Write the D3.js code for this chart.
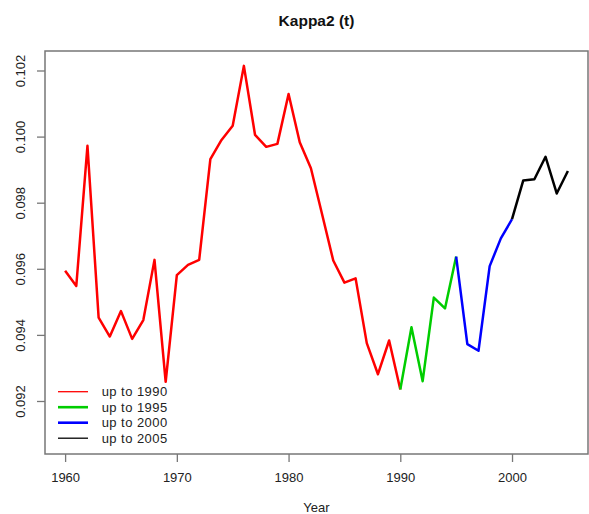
<!DOCTYPE html>
<html>
<head>
<meta charset="utf-8">
<script src="https://cdn.jsdelivr.net/npm/d3@7"></script>
<style>
  body { margin: 0; background: #fff; }
  svg { display: block; font-family: "Liberation Sans", Arial, Helvetica, sans-serif; }
</style>
</head>
<body>
<svg id="chart" width="589" height="514"></svg>
<script>
// Kappa2(t) estimates by year
const years = d3.range(1960, 2006);
const kappa2 = [
  0.09594, 0.09548, 0.09972, 0.09452, 0.09395, 0.09472, 0.09388, 0.09445, 0.09627, 0.09258,
  0.09581, 0.09612, 0.09627, 0.09932, 0.09990, 0.10033, 0.10214, 0.10005, 0.09969, 0.09978,
  0.10129, 0.09983, 0.09904, 0.09765, 0.09625, 0.09558, 0.09571, 0.09375, 0.09281, 0.09383,
  0.09235, 0.09423, 0.09260, 0.09513, 0.09480, 0.09637, 0.09372, 0.09352, 0.09608, 0.09692,
  0.09750, 0.09867, 0.09871, 0.09939, 0.09828, 0.09896
];

// Estimation windows: each segment runs from its start year to its end year
const segStart = [1960, 1990, 1995, 2000];
const segEnd   = [1990, 1995, 2000, 2005];
const segLabels = ["up to 1990", "up to 1995", "up to 2000", "up to 2005"];
const segColors = ["#ff0000", "#00cd00", "#0000ff", "#000000"];
const legendWidths = [1.3, 2.6, 2.6, 1.3];

const xTicks = [1960, 1970, 1980, 1990, 2000];
const yTicks = [0.092, 0.094, 0.096, 0.098, 0.100, 0.102];

const svg = d3.select("#chart");
const box = { left: 45, right: 588, top: 51, bottom: 454 };

const x = d3.scaleLinear().domain([1958.2, 2006.8]).range([box.left, box.right]);
const y = d3.scaleLinear().domain([0.090396, 0.10259]).range([box.bottom, box.top]);

const axisColor = "#777";
const textColor = "#222";

// Title
svg.append("text")
  .attr("x", (box.left + box.right) / 2).attr("y", 25.5)
  .attr("text-anchor", "middle")
  .attr("font-size", 15.5).attr("font-weight", "bold")
  .attr("fill", "#111")
  .text("Kappa2 (t)");

// Data lines, one per window
const points = years.map((yr, i) => ({ yr, v: kappa2[i] }));
const line = d3.line().x(d => x(d.yr)).y(d => y(d.v));
segStart.forEach((s, k) => {
  const seg = points.filter(d => d.yr >= s && d.yr <= segEnd[k]);
  svg.append("path")
    .datum(seg)
    .attr("d", line)
    .attr("fill", "none")
    .attr("stroke", segColors[k])
    .attr("stroke-width", 2.5)
    .attr("stroke-linejoin", "round");
});

// Plot frame
svg.append("rect")
  .attr("x", box.left).attr("y", box.top)
  .attr("width", box.right - box.left).attr("height", box.bottom - box.top)
  .attr("fill", "none").attr("stroke", axisColor).attr("stroke-width", 1.5);

// X axis
const xAxis = svg.append("g")
  .attr("transform", `translate(0,${box.bottom})`)
  .call(d3.axisBottom(x).tickValues(xTicks).tickFormat(d3.format("d")).tickSize(8).tickPadding(11));
xAxis.select(".domain").remove();
xAxis.selectAll(".tick line").attr("stroke", axisColor).attr("stroke-width", 1.3);
xAxis.selectAll(".tick text")
  .attr("font-size", 13).attr("fill", textColor)
  .attr("font-family", "'Liberation Sans', Arial, sans-serif");

// Y axis with rotated labels
const yAxis = svg.append("g")
  .attr("transform", `translate(${box.left},0)`)
  .call(d3.axisLeft(y).tickValues(yTicks).tickFormat(d3.format(".3f")).tickSize(8));
yAxis.select(".domain").remove();
yAxis.selectAll(".tick line").attr("stroke", axisColor).attr("stroke-width", 1.3);
yAxis.selectAll(".tick text")
  .attr("font-size", 13).attr("fill", textColor)
  .attr("font-family", "'Liberation Sans', Arial, sans-serif")
  .attr("text-anchor", "middle")
  .attr("dy", null)
  .attr("x", null)
  .attr("transform", `translate(${25 - box.left},0) rotate(-90)`);

// X axis title
svg.append("text")
  .attr("x", (box.left + box.right) / 2).attr("y", 512)
  .attr("text-anchor", "middle")
  .attr("font-size", 13).attr("fill", textColor)
  .text("Year");

// Legend
const legend = svg.append("g");
const legendY0 = 391.7, legendStep = 15.5;
segLabels.forEach((lab, k) => {
  const ly = legendY0 + k * legendStep;
  legend.append("line")
    .attr("x1", 58).attr("x2", 88).attr("y1", ly).attr("y2", ly)
    .attr("stroke", segColors[k]).attr("stroke-width", legendWidths[k]);
  legend.append("text")
    .attr("x", 101.7).attr("y", ly + 4.6)
    .attr("font-size", 13).attr("fill", textColor)
    .attr("letter-spacing", 0.45)
    .text(lab);
});
</script>
</body>
</html>
